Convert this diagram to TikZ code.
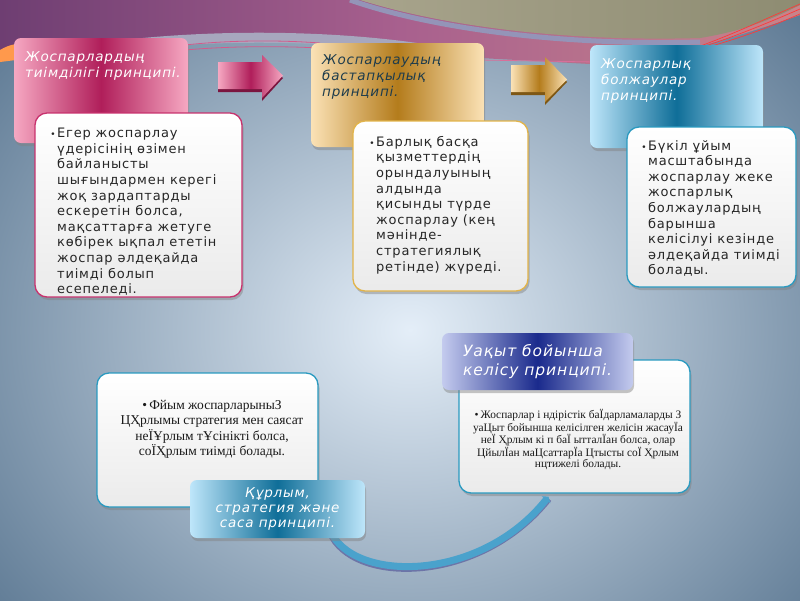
\documentclass[tikz,border=0pt]{standalone}
\usepackage{fontspec}
\setmainfont{Liberation Serif}
\newfontfamily\dvs[LetterSpace=6]{DejaVu Sans}
\usetikzlibrary{shadows,arrows.meta}

\definecolor{bgdark}{HTML}{4E6C88}
\definecolor{bglight}{HTML}{E4EEF8}
\definecolor{pinkL}{HTML}{F6A8C2}
\definecolor{pinkD}{HTML}{B01E5A}
\definecolor{pinkB}{HTML}{C8326E}
\definecolor{goldL}{HTML}{FBE2B6}
\definecolor{goldD}{HTML}{B47C1C}
\definecolor{goldB}{HTML}{E2B44A}
\definecolor{blueL}{HTML}{BEE6FA}
\definecolor{blueD}{HTML}{0F6E98}
\definecolor{blueB}{HTML}{2A9AC0}
\definecolor{lavL}{HTML}{C4CBEE}
\definecolor{lavD}{HTML}{1A2A8C}
\definecolor{tealtxt}{HTML}{1E3C4C}
\definecolor{flowc}{HTML}{4AA2CC}
\definecolor{topA}{HTML}{6E3E72}
\definecolor{topB}{HTML}{A8608E}
\definecolor{topC}{HTML}{C8848A}
\definecolor{oliveA}{HTML}{A8A48C}
\definecolor{oliveB}{HTML}{8E8C72}

\begin{document}
\begin{tikzpicture}[x=1pt,y=-1pt,
    head/.style={rounded corners=7pt,inner sep=0pt,
      drop shadow={shadow xshift=1pt,shadow yshift=-3pt,opacity=.45}},
    card/.style={draw=#1,line width=1.3pt,rounded corners=12pt,inner sep=0pt,
      top color=white,bottom color=black!8,
      drop shadow={shadow xshift=1.5pt,shadow yshift=-3pt,opacity=.45}},
    bodytxt/.style={anchor=north west,align=left,inner sep=0pt,text=black!85,
      font=\dvs\fontsize{13}{15.6}\selectfont},
    headtxt/.style={anchor=north west,align=left,inner sep=0pt,text=white,
      font=\dvs\itshape\fontsize{13.5}{16.4}\selectfont},
    serif/.style={anchor=north,align=center,inner sep=0pt,text=black!90}]
   %\draw[help lines] (0,0) grid (800,600);
    \useasboundingbox (0,0) rectangle (800,600);
    \begin{scope}
    \clip (0,0) rectangle (800,600);
    \fill[bgdark] (0,0) rectangle (800,600);
    \shade[inner color=bglight,outer color=bgdark] (410,330) ellipse [x radius=600,y radius=520];
    % top swooshes
    \shade[left color=topA,right color=topC,middle color=topB]
      (0,0) -- (800,0) -- (800,15) .. controls (700,50) and (640,62) .. (590,64)
      -- (480,58) .. controls (380,45) and (300,38) .. (200,38)
      .. controls (120,38) and (60,45) .. (0,56) -- cycle;
    \fill[orange!60!pink] (0,50) .. controls (5,47) and (10,45) .. (16,44) -- (16,60) -- (0,62) -- cycle;
    \draw[line width=10pt,blue!15!gray!60!white] (100,48) .. controls (200,34) and (330,34) .. (430,50);
    \shade[left color=oliveA,right color=oliveB]
      (360,0) .. controls (440,25) and (560,42) .. (700,38)
      .. controls (750,30) and (780,15) .. (800,5) -- (800,0) -- cycle;
    \draw[line width=5pt,blue!20!gray!70!white] (350,0) .. controls (430,28) and (560,46) .. (700,42);
    \draw[pinkB!80,line width=.8pt] (185,45) .. controls (230,40) and (280,40) .. (320,43);
    \draw[pinkB!80,line width=.8pt] (185,50) .. controls (230,46) and (280,46) .. (320,48);
    \draw[pinkB!70,line width=.8pt] (480,60) -- (595,62);
    \foreach \d in {0,5,10}
      \draw[red!70!pink,line width=.7pt] (800,4+\d) .. controls (740,30+\d) and (700,50) .. (640,64);
    \end{scope}

    % headers of the top row
    \node[head,left color=pinkL,right color=pinkL,middle color=pinkD,
      minimum width=174,minimum height=105] (h1) at (101,90.5) {};
    \node[head,left color=goldL,right color=goldL,middle color=goldD,
      minimum width=173,minimum height=104] (h2) at (397.5,95) {};
    \node[head,left color=blueL,right color=blueL,middle color=blueD,
      minimum width=173,minimum height=103] (h3) at (676.5,96.5) {};
    \node[headtxt] (h1t) at (25,51) {Жоспарлардың\\тиімділігі принципі.};
    \node[headtxt,text=tealtxt] (h2t) at (322,54) {Жоспарлаудың\\бастапқылық\\принципі.};
    \node[headtxt] (h3t) at (601,58) {Жоспарлық\\болжаулар\\принципі.};

    % block arrows
    \fill[pinkD!70!black] (218,65)--(262,65)--(262,58)--(283,78)--(262,101)--(262,92)--(218,92)--cycle;
    \shade[left color=pinkL,right color=pinkL,middle color=pinkD]
      (218,62)--(262,62)--(262,55)--(283,75.5)--(262,98)--(262,89)--(218,89)--cycle;
    \fill[goldD!70!black] (511,68)--(545,68)--(545,60)--(567,82)--(545,105)--(545,95)--(511,95)--cycle;
    \shade[left color=goldL,right color=goldL,middle color=goldD]
      (511,65)--(545,65)--(545,57)--(567,79.5)--(545,102)--(545,92)--(511,92)--cycle;

    % cards of the top row
    \node[card=pinkB,minimum width=207,minimum height=184] (b1) at (138.5,205) {};
    \node[card=goldB,minimum width=175,minimum height=170] (b2) at (440.5,206) {};
    \node[card=blueB,minimum width=169,minimum height=160] (b3) at (711.5,207) {};
    \node[bodytxt] (t1) at (57,128) {\llap{\small•\,}Егер жоспарлау\\үдерісінің өзімен\\байланысты\\шығындармен керегі\\жоқ зардаптарды\\ескеретін болса,\\мақсаттарға жетуге\\көбірек ықпал ететін\\жоспар әлдеқайда\\тиімді болып\\есепеледі.};
    \node[bodytxt] (t2) at (376,136) {\llap{\small•\,}Барлық басқа\\қызметтердің\\орындалуының\\алдында\\қисынды түрде\\жоспарлау (кең\\мәнінде-\\стратегиялық\\ретінде) жүреді.};
    \node[bodytxt] (t3) at (648,140) {\llap{\small•\,}Бүкіл ұйым\\масштабында\\жоспарлау жеке\\жоспарлық\\болжаулардың\\барынша\\келісілуі кезінде\\әлдеқайда тиімді\\болады.};

    % lower row
    \node[card=blueB,minimum width=231,minimum height=133] (b5) at (574.5,426.5) {};
    \node[head,left color=lavL,right color=lavL,middle color=lavD,
      minimum width=191,minimum height=57] (h5) at (537.5,361.5) {};
    \node[headtxt,anchor=center,font=\dvs\itshape\fontsize{15.5}{19}\selectfont] (h5t) at (h5) {Уақыт бойынша\\келісу принципі.};
    \node[serif,font=\fontsize{11.4}{10.6}\selectfont] (t5) at (578,409) {•\,Жоспарлар і ндірістік баЇдарламаларды З\\уаЦыт бойынша келісілген желісін жасауЇа\\неЇ Ҳрлым кі п баЇ ытталЇан болса, олар\\ЦйылЇан маЦсаттарЇа Цтысты соЇ Ҳрлым\\нцтижелі болады.};

    \coordinate (fs) at (330,530);
    \coordinate (fe) at ([xshift=-26pt,yshift=-3pt]b5.south);
    \draw[line width=7pt,blue!40!black!70,opacity=.6] ([yshift=-2pt]fs) .. controls (352,585) and (480,585) .. ([yshift=-2pt]fe);
    \draw[line width=7pt,flowc,-{Triangle[width=11pt,length=4pt]}] (fs) .. controls (352,583) and (480,583) .. (fe);

    \node[card=blueB,minimum width=221,minimum height=134] (b4) at (207.5,440) {};
    \node[serif,font=\fontsize{13.5}{15.4}\selectfont] (t4) at (212,400) {•\,Фйым жоспарларыныЗ\\ЦҲрлымы стратегия мен саясат\\неЇҰрлым тҰсінікті болса,\\соЇҲрлым тиімді болады.};
    \node[head,left color=blueL,right color=blueL,middle color=blueD,
      minimum width=175,minimum height=58] (h4) at (277.5,509) {};
    \node[headtxt,anchor=center,align=center,font=\dvs\itshape\fontsize{13.5}{14.8}\selectfont] (h4t) at (h4) {Құрлым,\\стратегия және\\саса принципі.};
\end{tikzpicture}
\end{document}
